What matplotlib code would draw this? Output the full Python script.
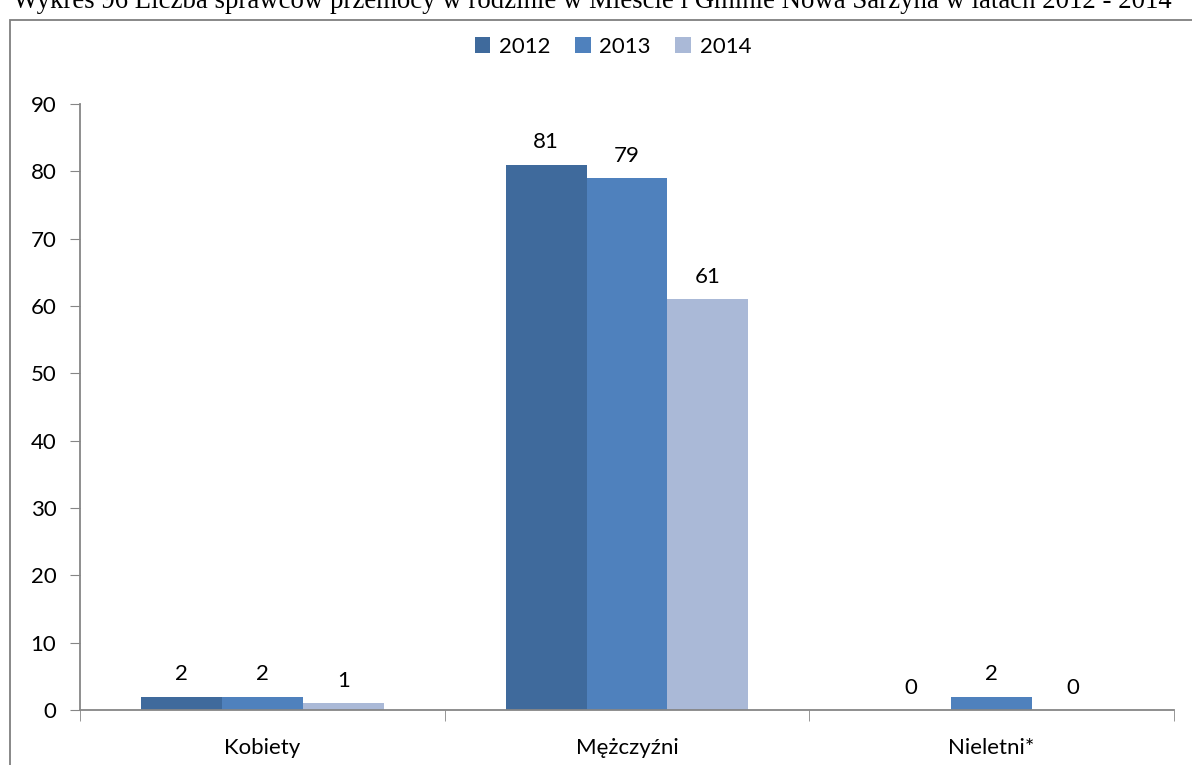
import matplotlib
matplotlib.use('Agg')
import matplotlib.pyplot as plt
from matplotlib.patches import Rectangle
import numpy as np

categories = ['Kobiety', 'Mężczyźni', 'Nieletni*']
years = ['2012', '2013', '2014']
values_2012 = [2, 81, 0]
values_2013 = [2, 79, 2]
values_2014 = [1, 61, 0]
colors = ['#3F6A9C', '#4F81BD', '#AAB9D7']
title = 'Wykres 96 Liczba sprawców przemocy w rodzinie w Mieście i Gminie Nowa Sarzyna w latach 2012 - 2014'

plt.rcParams['font.family'] = ['Lato', 'DejaVu Sans']

W, H = 1192, 765
fig = plt.figure(figsize=(W / 100, H / 100), dpi=100)

# chart border
fig.patches.append(Rectangle((10 / W, -0.1), 1.2, 1 - 20 / H + 0.1, transform=fig.transFigure,
                             fill=False, edgecolor='#7F7F7F', linewidth=1.3))

# title partly cut at top (as in the source page)
fig.text(592 / W, 1 - 8 / H, title, ha='center', va='baseline', fontsize=19.3,
         family='Liberation Serif')

ax = fig.add_axes([80 / W, 1 - 710 / H, (1174 - 80) / W, (710 - 104) / H])

x = np.arange(len(categories))
width = 0.222
series = [values_2012, values_2013, values_2014]
for i, (vals, yr, c) in enumerate(zip(series, years, colors)):
    bars = ax.bar(x + (i - 1) * width, vals, width, color=c, label=yr, zorder=2)
    for b, v in zip(bars, vals):
        ax.text(b.get_x() + b.get_width() / 2, v + 1.8, str(v), ha='center', va='bottom',
                fontsize=16)

ax.set_xlim(-0.5, 2.5)
ax.set_ylim(0, 90)
ax.set_yticks(range(0, 91, 10))
ax.tick_params(axis='y', labelsize=16, length=7, color='#868686', pad=10)
ax.set_xticks(x)
ax.set_xticklabels(categories, fontsize=16)
ax.tick_params(axis='x', length=0, pad=20)
ax.set_xticks([-0.5, 0.5, 1.5, 2.5], minor=True)
ax.tick_params(axis='x', which='minor', length=8, color='#868686')
for s in ['top', 'right']:
    ax.spines[s].set_visible(False)
for s in ['left', 'bottom']:
    ax.spines[s].set_color('#868686')
    ax.spines[s].set_linewidth(1.3)

leg = fig.legend(loc='center', bbox_to_anchor=(613 / W, 1 - 47 / H), ncol=3, frameon=False,
                 fontsize=16, handlelength=0.7, handleheight=0.7, handletextpad=0.4,
                 columnspacing=1.1)

plt.savefig('out.png', dpi=100)
